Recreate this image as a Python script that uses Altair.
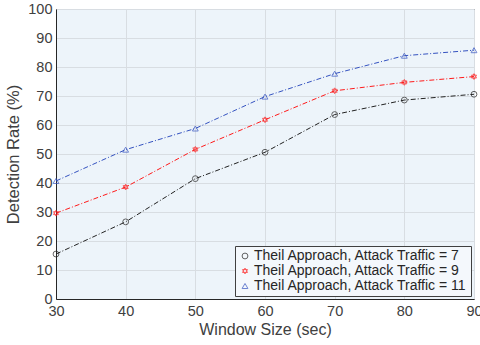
import altair as alt
import pandas as pd

window = [30, 40, 50, 60, 70, 80, 90]
s7 = [15.5, 26.6, 41.5, 50.6, 63.6, 68.6, 70.6]
s9 = [29.6, 38.6, 51.6, 61.8, 71.8, 74.7, 76.7]
s11 = [40.7, 51.5, 58.8, 69.8, 77.7, 83.9, 85.8]
names = ["Theil Approach, Attack Traffic = 7",
         "Theil Approach, Attack Traffic = 9",
         "Theil Approach, Attack Traffic = 11"]
colors = ["#222222", "#ff1a1a", "#3452c0"]
hexagram = "M0,-1L0.866,0.5L-0.866,0.5Z M0,1L0.866,-0.5L-0.866,-0.5Z"
shapes = ["circle", hexagram, "triangle-up"]

rows = []
for name, vals in zip(names, [s7, s9, s11]):
    for w, v in zip(window, vals):
        rows.append({"w": w, "v": v, "s": name})
df = pd.DataFrame(rows)

FONT = "Liberation Sans"
xs = alt.Scale(domain=[30, 90], nice=False, zero=False)
ys = alt.Scale(domain=[0, 100], nice=False)
cs = alt.Scale(domain=names, range=colors)
ss = alt.Scale(domain=names, range=shapes)

leg = alt.Legend(
    title=None, orient="bottom-right", offset=3, fillColor="#f4f8fc",
    strokeColor="#404040", padding=3, labelFont=FONT, labelFontSize=14,
    labelColor="#262626", symbolSize=34, symbolStrokeWidth=1, rowPadding=1,
    labelOffset=2, symbolFillColor="transparent", labelLimit=0)

xax = alt.Axis(title="Window Size (sec)", values=window,
        grid=True, gridColor="#d8dde2", tickSize=0, labelPadding=5,
        domainColor="#262626", labelFontSize=14.5, titleFontSize=16,
        labelColor="#404040", titleColor="#404040", labelFont=FONT, titleFont=FONT,
        titleFontWeight="normal", titlePadding=4, labelFlush=False, labelOverlap=False)
yax = alt.Axis(title="Detection Rate (%)",
        values=list(range(0, 101, 10)), grid=True, gridColor="#d8dde2", tickSize=0,
        labelPadding=4, domainColor="#262626", labelFontSize=14.5, titleFontSize=16.5,
        labelColor="#404040", titleColor="#404040", labelFont=FONT, titleFont=FONT,
        titleFontWeight="normal", titlePadding=6, labelFlush=False, labelOverlap=False)

base = alt.Chart(df)
lines = base.mark_line(strokeWidth=1, strokeDash=[5, 2, 1, 2]).encode(
    x=alt.X("w:Q", scale=xs, axis=xax),
    y=alt.Y("v:Q", scale=ys, axis=yax),
    color=alt.Color("s:N", scale=cs, legend=leg),
    detail="s:N",
)
points = base.mark_point(size=34, filled=False, strokeWidth=1).encode(
    x=alt.X("w:Q", scale=xs, axis=xax),
    y=alt.Y("v:Q", scale=ys, axis=yax),
    color=alt.Color("s:N", scale=cs, legend=leg),
    shape=alt.Shape("s:N", scale=ss, legend=leg),
)

chart = alt.layer(lines, points).properties(
    width=418, height=290,
    autosize=alt.AutoSizeParams(type="none"),
    padding={"left": 56, "top": 9, "right": 6, "bottom": 46},
).configure_view(fill="#edf4fa", stroke="#262626", strokeWidth=1)

chart.save("out.html", embed_options={"renderer": "svg", "actions": False})
